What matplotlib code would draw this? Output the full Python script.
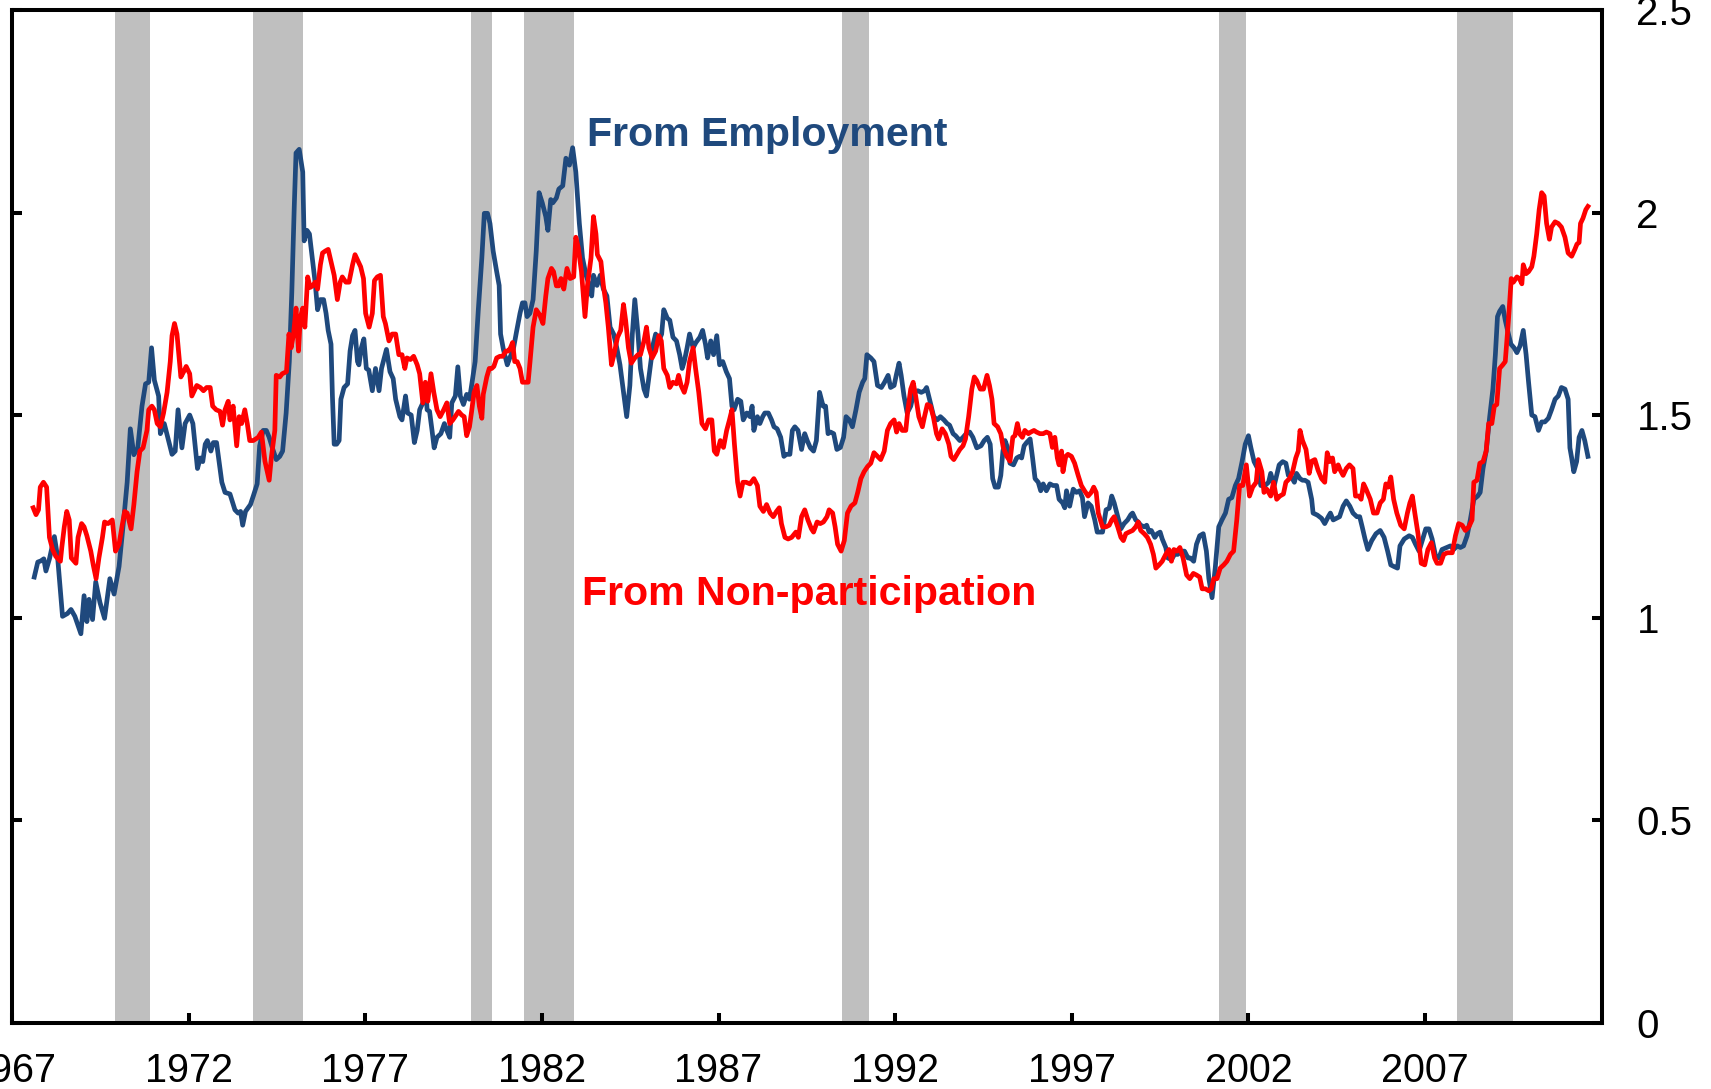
import matplotlib
matplotlib.use("Agg")
import matplotlib.pyplot as plt

plt.rcParams['font.family'] = ['Liberation Sans', 'DejaVu Sans']

# ------------------------------------------------------------
#  data
# ------------------------------------------------------------
emp_years = [
    1967.63, 1967.73, 1967.82, 1967.90, 1967.96, 1968.06, 1968.20, 1968.29, 1968.43, 1968.57,
    1968.67, 1968.78, 1968.95, 1969.04, 1969.12, 1969.18, 1969.28, 1969.37, 1969.49, 1969.62,
    1969.77, 1969.89, 1970.03, 1970.17, 1970.26, 1970.35, 1970.45, 1970.56, 1970.68, 1970.78,
    1970.87, 1970.95, 1971.03, 1971.15, 1971.20, 1971.31, 1971.43, 1971.53, 1971.62, 1971.70,
    1971.81, 1971.90, 1972.03, 1972.12, 1972.25, 1972.33, 1972.40, 1972.47, 1972.53, 1972.63,
    1972.70, 1972.79, 1972.94, 1973.03, 1973.17, 1973.31, 1973.40, 1973.47, 1973.53, 1973.61,
    1973.75, 1973.83, 1973.94, 1974.01, 1974.11, 1974.20, 1974.28, 1974.37, 1974.48, 1974.58,
    1974.66, 1974.76, 1974.85, 1974.92, 1974.99, 1975.04, 1975.13, 1975.23, 1975.27, 1975.35,
    1975.42, 1975.51, 1975.58, 1975.65, 1975.73, 1975.82, 1975.89, 1975.95, 1976.03, 1976.07,
    1976.12, 1976.19, 1976.26, 1976.31, 1976.40, 1976.50, 1976.57, 1976.64, 1976.71, 1976.78,
    1976.82, 1976.89, 1976.96, 1977.03, 1977.10, 1977.20, 1977.29, 1977.39, 1977.46, 1977.60,
    1977.70, 1977.79, 1977.86, 1977.98, 1978.04, 1978.14, 1978.20, 1978.30, 1978.39, 1978.47,
    1978.54, 1978.63, 1978.71, 1978.75, 1978.82, 1978.89, 1978.95, 1979.03, 1979.14, 1979.24,
    1979.31, 1979.39, 1979.45, 1979.55, 1979.62, 1979.69, 1979.78, 1979.87, 1979.95, 1980.01,
    1980.11, 1980.20, 1980.30, 1980.37, 1980.46, 1980.53, 1980.62, 1980.72, 1980.79, 1980.83,
    1980.91, 1981.02, 1981.09, 1981.19, 1981.28, 1981.38, 1981.45, 1981.52, 1981.58, 1981.66,
    1981.75, 1981.84, 1981.92, 1982.01, 1982.11, 1982.17, 1982.25, 1982.31, 1982.41, 1982.48,
    1982.59, 1982.68, 1982.78, 1982.87, 1982.96, 1983.06, 1983.15, 1983.25, 1983.34, 1983.41,
    1983.46, 1983.56, 1983.65, 1983.74, 1983.84, 1983.93, 1984.03, 1984.12, 1984.21, 1984.31,
    1984.40, 1984.49, 1984.56, 1984.63, 1984.72, 1984.79, 1984.89, 1984.96, 1985.06, 1985.15,
    1985.22, 1985.31, 1985.39, 1985.45, 1985.55, 1985.62, 1985.71, 1985.81, 1985.90, 1985.97,
    1986.03, 1986.11, 1986.18, 1986.28, 1986.36, 1986.47, 1986.55, 1986.63, 1986.69, 1986.78,
    1986.86, 1986.95, 1987.03, 1987.12, 1987.22, 1987.31, 1987.38, 1987.44, 1987.54, 1987.63,
    1987.70, 1987.80, 1987.89, 1987.95, 1988.00, 1988.10, 1988.17, 1988.25, 1988.31, 1988.41,
    1988.50, 1988.57, 1988.66, 1988.76, 1988.85, 1988.92, 1989.02, 1989.09, 1989.16, 1989.25,
    1989.35, 1989.44, 1989.51, 1989.60, 1989.69, 1989.77, 1989.86, 1989.96, 1990.03, 1990.10,
    1990.17, 1990.26, 1990.35, 1990.45, 1990.54, 1990.61, 1990.70, 1990.79, 1990.89, 1990.98,
    1991.08, 1991.14, 1991.20, 1991.31, 1991.40, 1991.50, 1991.61, 1991.70, 1991.80, 1991.87,
    1991.97, 1992.04, 1992.11, 1992.17, 1992.25, 1992.34, 1992.44, 1992.53, 1992.64, 1992.74,
    1992.83, 1992.89, 1992.95, 1993.02, 1993.09, 1993.19, 1993.28, 1993.38, 1993.47, 1993.54,
    1993.64, 1993.71, 1993.83, 1993.92, 1994.01, 1994.11, 1994.20, 1994.31, 1994.43, 1994.52,
    1994.61, 1994.69, 1994.76, 1994.83, 1994.92, 1994.99, 1995.05, 1995.11, 1995.18, 1995.25,
    1995.35, 1995.44, 1995.52, 1995.58, 1995.65, 1995.72, 1995.82, 1995.89, 1995.96, 1996.05,
    1996.12, 1996.19, 1996.28, 1996.38, 1996.47, 1996.57, 1996.64, 1996.74, 1996.80, 1996.85,
    1996.94, 1997.04, 1997.13, 1997.22, 1997.30, 1997.36, 1997.46, 1997.55, 1997.65, 1997.72,
    1997.87, 1997.97, 1998.06, 1998.13, 1998.20, 1998.30, 1998.39, 1998.48, 1998.58, 1998.67,
    1998.72, 1998.81, 1998.88, 1998.95, 1999.05, 1999.12, 1999.19, 1999.25, 1999.35, 1999.42,
    1999.50, 1999.56, 1999.66, 1999.72, 1999.82, 1999.91, 2000.00, 2000.10, 2000.19, 2000.29,
    2000.36, 2000.45, 2000.53, 2000.62, 2000.72, 2000.81, 2000.88, 2000.97, 2001.06, 2001.16,
    2001.25, 2001.35, 2001.44, 2001.53, 2001.63, 2001.72, 2001.82, 2001.91, 2002.00, 2002.07,
    2002.16, 2002.26, 2002.35, 2002.41, 2002.47, 2002.57, 2002.63, 2002.73, 2002.80, 2002.87,
    2002.97, 2003.06, 2003.13, 2003.22, 2003.30, 2003.36, 2003.46, 2003.53, 2003.60, 2003.69,
    2003.79, 2003.83, 2003.95, 2004.07, 2004.16, 2004.26, 2004.32, 2004.40, 2004.49, 2004.58,
    2004.68, 2004.77, 2004.87, 2004.96, 2005.07, 2005.15, 2005.22, 2005.30, 2005.38, 2005.49,
    2005.61, 2005.73, 2005.84, 2005.94, 2006.03, 2006.12, 2006.22, 2006.29, 2006.41, 2006.55,
    2006.64, 2006.73, 2006.83, 2006.92, 2007.02, 2007.11, 2007.20, 2007.30, 2007.39, 2007.48,
    2007.61, 2007.72, 2007.81, 2007.91, 2008.00, 2008.09, 2008.19, 2008.28, 2008.38, 2008.49,
    2008.56, 2008.64, 2008.73, 2008.83, 2008.92, 2008.99, 2009.05, 2009.11, 2009.20, 2009.27,
    2009.36, 2009.43, 2009.52, 2009.60, 2009.69, 2009.78, 2009.86, 2009.93, 2010.02, 2010.11,
    2010.21, 2010.30, 2010.39, 2010.49, 2010.58, 2010.68, 2010.77, 2010.86, 2010.96, 2011.05,
    2011.10, 2011.15, 2011.21, 2011.29, 2011.36, 2011.44, 2011.52, 2011.61,
]
emp_values = [
    1.100, 1.137, 1.140, 1.145, 1.115, 1.145, 1.200, 1.150, 1.003, 1.010,
    1.020, 1.003, 0.960, 1.054, 0.990, 1.045, 0.995, 1.088, 1.037, 0.998,
    1.096, 1.058, 1.126, 1.249, 1.334, 1.466, 1.402, 1.419, 1.522, 1.577,
    1.581, 1.666, 1.586, 1.547, 1.454, 1.479, 1.437, 1.403, 1.411, 1.513,
    1.419, 1.479, 1.500, 1.479, 1.368, 1.394, 1.385, 1.428, 1.437, 1.411,
    1.432, 1.432, 1.334, 1.309, 1.305, 1.266, 1.258, 1.262, 1.228, 1.262,
    1.279, 1.300, 1.330, 1.424, 1.462, 1.462, 1.445, 1.419, 1.390, 1.398,
    1.411, 1.505, 1.632, 1.802, 2.015, 2.147, 2.156, 2.100, 1.930, 1.956,
    1.947, 1.879, 1.828, 1.760, 1.785, 1.785, 1.751, 1.709, 1.675, 1.547,
    1.428, 1.428, 1.437, 1.539, 1.568, 1.577, 1.658, 1.696, 1.709, 1.632,
    1.624, 1.666, 1.688, 1.615, 1.611, 1.560, 1.615, 1.560, 1.615, 1.662,
    1.607, 1.590, 1.539, 1.496, 1.488, 1.547, 1.505, 1.500, 1.432, 1.462,
    1.513, 1.530, 1.573, 1.513, 1.509, 1.462, 1.419, 1.445, 1.454, 1.479,
    1.462, 1.445, 1.530, 1.547, 1.619, 1.547, 1.526, 1.551, 1.539, 1.573,
    1.632, 1.760, 1.888, 1.998, 1.998, 1.973, 1.905, 1.854, 1.820, 1.700,
    1.662, 1.624, 1.641, 1.662, 1.705, 1.751, 1.777, 1.777, 1.743, 1.751,
    1.785, 1.905, 2.049, 2.024, 1.990, 1.956, 2.032, 2.024, 2.036, 2.058,
    2.066, 2.134, 2.117, 2.160, 2.100, 1.973, 1.888, 1.845, 1.820, 1.794,
    1.845, 1.820, 1.845, 1.811, 1.794, 1.717, 1.700, 1.666, 1.624, 1.556,
    1.496, 1.573, 1.700, 1.785, 1.700, 1.615, 1.564, 1.547, 1.615, 1.675,
    1.700, 1.683, 1.700, 1.760, 1.739, 1.734, 1.692, 1.683, 1.649, 1.615,
    1.632, 1.666, 1.700, 1.666, 1.679, 1.692, 1.709, 1.675, 1.641, 1.683,
    1.649, 1.696, 1.624, 1.632, 1.607, 1.590, 1.522, 1.513, 1.539, 1.534,
    1.488, 1.505, 1.496, 1.522, 1.462, 1.496, 1.479, 1.496, 1.505, 1.505,
    1.488, 1.471, 1.466, 1.445, 1.398, 1.403, 1.403, 1.462, 1.471, 1.462,
    1.415, 1.454, 1.437, 1.419, 1.411, 1.437, 1.556, 1.522, 1.522, 1.454,
    1.458, 1.454, 1.415, 1.420, 1.445, 1.496, 1.488, 1.471, 1.513, 1.556,
    1.581, 1.590, 1.649, 1.641, 1.632, 1.573, 1.568, 1.581, 1.598, 1.568,
    1.573, 1.602, 1.628, 1.598, 1.547, 1.505, 1.522, 1.556, 1.560, 1.556,
    1.560, 1.568, 1.547, 1.522, 1.496, 1.488, 1.496, 1.488, 1.479, 1.475,
    1.454, 1.449, 1.437, 1.445, 1.454, 1.458, 1.445, 1.419, 1.424, 1.437,
    1.445, 1.428, 1.343, 1.322, 1.322, 1.351, 1.411, 1.437, 1.420, 1.381,
    1.377, 1.394, 1.398, 1.394, 1.424, 1.432, 1.441, 1.394, 1.343, 1.334,
    1.313, 1.330, 1.313, 1.330, 1.326, 1.326, 1.292, 1.283, 1.271, 1.313,
    1.275, 1.317, 1.309, 1.313, 1.296, 1.249, 1.283, 1.275, 1.241, 1.211,
    1.211, 1.266, 1.270, 1.300, 1.283, 1.249, 1.219, 1.232, 1.241, 1.254,
    1.258, 1.241, 1.236, 1.228, 1.224, 1.228, 1.211, 1.215, 1.198, 1.207,
    1.211, 1.194, 1.173, 1.147, 1.143, 1.156, 1.156, 1.164, 1.164, 1.147,
    1.147, 1.139, 1.181, 1.202, 1.207, 1.164, 1.096, 1.049, 1.122, 1.224,
    1.241, 1.258, 1.292, 1.296, 1.326, 1.343, 1.385, 1.428, 1.449, 1.419,
    1.385, 1.368, 1.326, 1.326, 1.326, 1.334, 1.356, 1.326, 1.351, 1.377,
    1.385, 1.381, 1.351, 1.347, 1.334, 1.356, 1.343, 1.339, 1.339, 1.334,
    1.292, 1.258, 1.253, 1.245, 1.232, 1.249, 1.258, 1.241, 1.245, 1.249,
    1.275, 1.288, 1.275, 1.258, 1.249, 1.249, 1.224, 1.194, 1.168, 1.190,
    1.207, 1.215, 1.198, 1.164, 1.130, 1.126, 1.122, 1.177, 1.194, 1.202,
    1.198, 1.181, 1.164, 1.190, 1.219, 1.219, 1.194, 1.151, 1.147, 1.168,
    1.173, 1.177, 1.168, 1.177, 1.173, 1.177, 1.202, 1.241, 1.292, 1.300,
    1.309, 1.368, 1.411, 1.496, 1.564, 1.649, 1.743, 1.756, 1.768, 1.734,
    1.700, 1.675, 1.666, 1.654, 1.671, 1.709, 1.649, 1.581, 1.500, 1.496,
    1.462, 1.483, 1.483, 1.492, 1.513, 1.539, 1.547, 1.568, 1.564, 1.539,
    1.419, 1.394, 1.360, 1.385, 1.445, 1.462, 1.437, 1.398,
]

nonpart_years = [
    1967.60, 1967.68, 1967.75, 1967.80, 1967.89, 1967.98, 1968.06, 1968.15, 1968.24, 1968.37,
    1968.41, 1968.48, 1968.55, 1968.62, 1968.68, 1968.81, 1968.87, 1968.97, 1969.04, 1969.12,
    1969.23, 1969.30, 1969.38, 1969.46, 1969.56, 1969.62, 1969.72, 1969.84, 1969.93, 1970.03,
    1970.12, 1970.19, 1970.26, 1970.37, 1970.45, 1970.54, 1970.62, 1970.71, 1970.82, 1970.87,
    1970.96, 1971.03, 1971.11, 1971.20, 1971.29, 1971.39, 1971.48, 1971.53, 1971.60, 1971.67,
    1971.74, 1971.78, 1971.86, 1971.93, 1972.03, 1972.09, 1972.16, 1972.23, 1972.33, 1972.42,
    1972.51, 1972.61, 1972.68, 1972.78, 1972.89, 1972.96, 1973.03, 1973.12, 1973.17, 1973.26,
    1973.36, 1973.43, 1973.50, 1973.59, 1973.66, 1973.73, 1973.83, 1973.97, 1974.06, 1974.16,
    1974.28, 1974.34, 1974.44, 1974.48, 1974.58, 1974.65, 1974.77, 1974.84, 1974.90, 1974.97,
    1975.04, 1975.11, 1975.16, 1975.23, 1975.29, 1975.37, 1975.44, 1975.51, 1975.58, 1975.65,
    1975.73, 1975.79, 1975.87, 1975.95, 1976.03, 1976.12, 1976.21, 1976.29, 1976.35, 1976.45,
    1976.54, 1976.64, 1976.71, 1976.78, 1976.87, 1976.95, 1977.01, 1977.11, 1977.20, 1977.26,
    1977.34, 1977.43, 1977.51, 1977.57, 1977.67, 1977.76, 1977.86, 1977.95, 1978.04, 1978.12,
    1978.18, 1978.28, 1978.37, 1978.47, 1978.54, 1978.63, 1978.70, 1978.77, 1978.86, 1978.94,
    1979.03, 1979.12, 1979.22, 1979.31, 1979.39, 1979.48, 1979.57, 1979.64, 1979.73, 1979.80,
    1979.87, 1979.95, 1980.01, 1980.08, 1980.16, 1980.23, 1980.30, 1980.34, 1980.44, 1980.51,
    1980.58, 1980.64, 1980.72, 1980.81, 1980.89, 1980.98, 1981.05, 1981.11, 1981.17, 1981.23,
    1981.30, 1981.38, 1981.45, 1981.52, 1981.61, 1981.66, 1981.75, 1981.84, 1981.94, 1982.03,
    1982.11, 1982.17, 1982.27, 1982.33, 1982.41, 1982.48, 1982.54, 1982.62, 1982.71, 1982.80,
    1982.90, 1982.96, 1983.03, 1983.12, 1983.22, 1983.29, 1983.39, 1983.46, 1983.53, 1983.57,
    1983.67, 1983.74, 1983.81, 1983.88, 1983.97, 1984.04, 1984.14, 1984.23, 1984.31, 1984.37,
    1984.45, 1984.53, 1984.63, 1984.72, 1984.79, 1984.89, 1984.96, 1985.03, 1985.12, 1985.22,
    1985.31, 1985.38, 1985.45, 1985.55, 1985.62, 1985.71, 1985.81, 1985.87, 1985.94, 1986.03,
    1986.11, 1986.18, 1986.28, 1986.35, 1986.44, 1986.53, 1986.63, 1986.72, 1986.81, 1986.88,
    1986.95, 1987.05, 1987.14, 1987.23, 1987.31, 1987.38, 1987.45, 1987.54, 1987.61, 1987.69,
    1987.78, 1987.89, 1988.00, 1988.10, 1988.17, 1988.27, 1988.36, 1988.46, 1988.55, 1988.64,
    1988.72, 1988.78, 1988.88, 1988.97, 1989.07, 1989.19, 1989.26, 1989.35, 1989.44, 1989.53,
    1989.63, 1989.69, 1989.79, 1989.88, 1989.97, 1990.07, 1990.13, 1990.23, 1990.30, 1990.37,
    1990.47, 1990.56, 1990.65, 1990.75, 1990.86, 1990.94, 1991.03, 1991.12, 1991.22, 1991.31,
    1991.40, 1991.50, 1991.59, 1991.69, 1991.78, 1991.87, 1991.97, 1992.04, 1992.11, 1992.20,
    1992.30, 1992.36, 1992.44, 1992.51, 1992.58, 1992.67, 1992.77, 1992.83, 1992.91, 1993.00,
    1993.08, 1993.17, 1993.23, 1993.33, 1993.42, 1993.52, 1993.58, 1993.66, 1993.75, 1993.83,
    1993.92, 1993.99, 1994.08, 1994.17, 1994.24, 1994.31, 1994.41, 1994.50, 1994.60, 1994.67,
    1994.74, 1994.80, 1994.90, 1994.99, 1995.06, 1995.16, 1995.25, 1995.33, 1995.39, 1995.46,
    1995.52, 1995.60, 1995.67, 1995.77, 1995.84, 1995.93, 1996.00, 1996.10, 1996.19, 1996.28,
    1996.38, 1996.45, 1996.52, 1996.59, 1996.64, 1996.71, 1996.75, 1996.83, 1996.89, 1996.99,
    1997.08, 1997.18, 1997.27, 1997.36, 1997.46, 1997.55, 1997.62, 1997.69, 1997.75, 1997.87,
    1997.97, 1998.06, 1998.13, 1998.20, 1998.30, 1998.39, 1998.46, 1998.53, 1998.62, 1998.72,
    1998.81, 1998.88, 1998.95, 1999.05, 1999.14, 1999.23, 1999.31, 1999.38, 1999.47, 1999.56,
    1999.66, 1999.75, 1999.82, 1999.89, 1999.98, 2000.06, 2000.15, 2000.25, 2000.34, 2000.44,
    2000.53, 2000.62, 2000.69, 2000.78, 2000.88, 2000.95, 2001.02, 2001.11, 2001.20, 2001.30,
    2001.39, 2001.49, 2001.58, 2001.67, 2001.75, 2001.84, 2001.94, 2002.03, 2002.12, 2002.22,
    2002.28, 2002.38, 2002.44, 2002.52, 2002.63, 2002.71, 2002.80, 2002.89, 2002.99, 2003.06,
    2003.16, 2003.25, 2003.34, 2003.41, 2003.46, 2003.53, 2003.63, 2003.72, 2003.79, 2003.88,
    2003.97, 2004.07, 2004.16, 2004.23, 2004.30, 2004.38, 2004.44, 2004.54, 2004.60, 2004.68,
    2004.77, 2004.86, 2004.96, 2005.03, 2005.13, 2005.19, 2005.26, 2005.33, 2005.45, 2005.54,
    2005.64, 2005.73, 2005.82, 2005.89, 2005.96, 2006.03, 2006.11, 2006.20, 2006.31, 2006.41,
    2006.50, 2006.57, 2006.64, 2006.71, 2006.80, 2006.89, 2006.99, 2007.08, 2007.18, 2007.27,
    2007.34, 2007.44, 2007.53, 2007.63, 2007.77, 2007.86, 2007.95, 2008.05, 2008.14, 2008.24,
    2008.33, 2008.38, 2008.47, 2008.55, 2008.64, 2008.73, 2008.80, 2008.89, 2008.96, 2009.03,
    2009.11, 2009.20, 2009.27, 2009.36, 2009.44, 2009.50, 2009.60, 2009.67, 2009.74, 2009.78,
    2009.86, 2009.93, 2010.02, 2010.08, 2010.16, 2010.23, 2010.30, 2010.37, 2010.44, 2010.52,
    2010.58, 2010.68, 2010.77, 2010.86, 2010.96, 2011.05, 2011.15, 2011.24, 2011.30, 2011.36,
    2011.40, 2011.47, 2011.55, 2011.61,
]
nonpart_values = [
    1.271, 1.254, 1.266, 1.322, 1.334, 1.322, 1.198, 1.168, 1.151, 1.139,
    1.173, 1.224, 1.262, 1.241, 1.147, 1.134, 1.198, 1.232, 1.224, 1.202,
    1.164, 1.130, 1.096, 1.147, 1.198, 1.236, 1.232, 1.241, 1.164, 1.181,
    1.228, 1.262, 1.258, 1.219, 1.279, 1.360, 1.411, 1.419, 1.462, 1.513,
    1.522, 1.513, 1.479, 1.471, 1.505, 1.556, 1.632, 1.696, 1.726, 1.700,
    1.632, 1.594, 1.607, 1.620, 1.602, 1.547, 1.560, 1.573, 1.568, 1.560,
    1.568, 1.568, 1.522, 1.513, 1.509, 1.475, 1.513, 1.534, 1.488, 1.522,
    1.424, 1.496, 1.479, 1.513, 1.479, 1.437, 1.437, 1.445, 1.458, 1.386,
    1.339, 1.394, 1.462, 1.598, 1.594, 1.602, 1.607, 1.700, 1.666, 1.700,
    1.764, 1.658, 1.739, 1.764, 1.717, 1.841, 1.815, 1.819, 1.828, 1.811,
    1.871, 1.900, 1.905, 1.909, 1.879, 1.845, 1.785, 1.828, 1.841, 1.828,
    1.828, 1.871, 1.896, 1.883, 1.866, 1.837, 1.751, 1.717, 1.751, 1.832,
    1.841, 1.845, 1.743, 1.726, 1.683, 1.700, 1.700, 1.649, 1.649, 1.615,
    1.641, 1.637, 1.645, 1.624, 1.602, 1.530, 1.581, 1.534, 1.602, 1.556,
    1.513, 1.496, 1.513, 1.530, 1.479, 1.488, 1.500, 1.509, 1.500, 1.496,
    1.449, 1.471, 1.509, 1.556, 1.573, 1.522, 1.492, 1.551, 1.594, 1.615,
    1.615, 1.620, 1.641, 1.645, 1.645, 1.658, 1.658, 1.666, 1.679, 1.632,
    1.632, 1.615, 1.581, 1.581, 1.581, 1.628, 1.717, 1.760, 1.747, 1.726,
    1.794, 1.837, 1.862, 1.854, 1.819, 1.819, 1.837, 1.811, 1.862, 1.837,
    1.841, 1.939, 1.913, 1.854, 1.743, 1.820, 1.888, 1.990, 1.947, 1.896,
    1.879, 1.820, 1.777, 1.717, 1.624, 1.649, 1.692, 1.709, 1.773, 1.734,
    1.666, 1.628, 1.641, 1.649, 1.649, 1.683, 1.717, 1.666, 1.641, 1.658,
    1.696, 1.683, 1.615, 1.598, 1.568, 1.581, 1.577, 1.598, 1.573, 1.556,
    1.581, 1.632, 1.666, 1.615, 1.556, 1.479, 1.466, 1.488, 1.488, 1.411,
    1.403, 1.437, 1.420, 1.462, 1.488, 1.513, 1.428, 1.334, 1.300, 1.334,
    1.334, 1.330, 1.343, 1.326, 1.275, 1.262, 1.279, 1.258, 1.249, 1.262,
    1.271, 1.232, 1.198, 1.194, 1.198, 1.211, 1.198, 1.249, 1.266, 1.241,
    1.219, 1.211, 1.236, 1.232, 1.236, 1.249, 1.266, 1.258, 1.224, 1.181,
    1.164, 1.190, 1.258, 1.275, 1.283, 1.309, 1.343, 1.360, 1.373, 1.381,
    1.407, 1.398, 1.390, 1.411, 1.462, 1.479, 1.488, 1.458, 1.479, 1.462,
    1.462, 1.513, 1.564, 1.581, 1.547, 1.496, 1.471, 1.496, 1.526, 1.522,
    1.496, 1.454, 1.441, 1.466, 1.454, 1.428, 1.398, 1.390, 1.403, 1.415,
    1.424, 1.441, 1.496, 1.564, 1.594, 1.585, 1.564, 1.564, 1.598, 1.573,
    1.539, 1.479, 1.471, 1.454, 1.420, 1.398, 1.386, 1.445, 1.449, 1.479,
    1.454, 1.445, 1.462, 1.454, 1.458, 1.462, 1.458, 1.454, 1.454, 1.458,
    1.454, 1.420, 1.445, 1.394, 1.377, 1.411, 1.360, 1.398, 1.403, 1.398,
    1.381, 1.351, 1.326, 1.313, 1.300, 1.309, 1.322, 1.309, 1.258, 1.224,
    1.224, 1.228, 1.241, 1.249, 1.224, 1.198, 1.190, 1.207, 1.211, 1.215,
    1.224, 1.236, 1.215, 1.207, 1.198, 1.181, 1.156, 1.122, 1.130, 1.139,
    1.156, 1.168, 1.139, 1.168, 1.164, 1.173, 1.147, 1.105, 1.096, 1.109,
    1.105, 1.100, 1.071, 1.071, 1.066, 1.071, 1.096, 1.096, 1.122, 1.130,
    1.139, 1.156, 1.164, 1.241, 1.326, 1.326, 1.377, 1.300, 1.322, 1.334,
    1.390, 1.360, 1.309, 1.317, 1.300, 1.334, 1.292, 1.300, 1.305, 1.334,
    1.343, 1.360, 1.394, 1.411, 1.462, 1.437, 1.415, 1.356, 1.386, 1.390,
    1.364, 1.343, 1.334, 1.407, 1.385, 1.394, 1.360, 1.377, 1.364, 1.351,
    1.368, 1.377, 1.368, 1.300, 1.300, 1.292, 1.330, 1.317, 1.292, 1.258,
    1.258, 1.283, 1.292, 1.330, 1.322, 1.347, 1.292, 1.258, 1.228, 1.219,
    1.258, 1.283, 1.300, 1.258, 1.207, 1.134, 1.130, 1.168, 1.185, 1.147,
    1.134, 1.134, 1.156, 1.160, 1.160, 1.202, 1.232, 1.228, 1.215, 1.224,
    1.241, 1.334, 1.339, 1.381, 1.385, 1.411, 1.479, 1.479, 1.522, 1.526,
    1.615, 1.624, 1.632, 1.734, 1.837, 1.828, 1.841, 1.837, 1.824, 1.871,
    1.849, 1.854, 1.866, 1.892, 1.947, 2.007, 2.049, 2.041, 1.973, 1.934,
    1.964, 1.977, 1.973, 1.964, 1.939, 1.900, 1.892, 1.909, 1.922, 1.926,
    1.973, 1.986, 2.007, 2.015,
]

# NBER recessions (start, end)
recession_start = [1969.917, 1973.833, 1980.000, 1981.500, 1990.500, 2001.167, 2007.917]
recession_end = [1970.917, 1975.250, 1980.583, 1982.917, 1991.250, 2001.917, 2009.500]

x_ticks = [1967, 1972, 1977, 1982, 1987, 1992, 1997, 2002, 2007]
y_ticks = [0, 0.5, 1, 1.5, 2, 2.5]
y_labels = ['0', '0.5', '1', '1.5', '2', '2.5']

BLUE = '#1F497D'
RED = '#FF0000'
GREY = '#BFBFBF'

# ------------------------------------------------------------
#  figure
# ------------------------------------------------------------
W, H = 1711, 1089
fig = plt.figure(figsize=(W / 100, H / 100), dpi=100)
left, right, top, bottom = 12, 1601.7, 10, 1022.6
ax = fig.add_axes([left / W, (H - bottom) / H, (right - left) / W, (bottom - top) / H])

# recession shading
for s, e in zip(recession_start, recession_end):
    ax.axvspan(s, e, color=GREY, lw=0, zorder=1)

ax.plot(emp_years, emp_values, color=BLUE, lw=3.4, zorder=3, solid_joinstyle='round')
ax.plot(nonpart_years, nonpart_values, color=RED, lw=3.4, zorder=4, solid_joinstyle='round')

ax.text(1983.27, 2.163, 'From Employment', color=BLUE, fontsize=29.6,
        fontweight='bold', ha='left', va='baseline')
ax.text(1983.13, 1.030, 'From Non-participation', color=RED, fontsize=29.6,
        fontweight='bold', ha='left', va='baseline')

ax.set_xlim(1967, 2012)
ax.set_ylim(0, 2.5)
ax.set_xticks(x_ticks)
ax.set_xticklabels([str(t) for t in x_ticks])
ax.set_yticks(y_ticks)
ax.set_yticklabels(y_labels)

for sp in ax.spines.values():
    sp.set_linewidth(2.9)
    sp.set_color('black')

ax.tick_params(axis='x', direction='in', length=7.5, width=2.9, labelsize=28.5,
               pad=21, top=False, bottom=True)
ax.tick_params(axis='y', direction='in', length=7.5, width=2.9, labelsize=29,
               pad=25, left=True, right=True, labelleft=False, labelright=True)

fig.savefig('out.png', dpi=100)
